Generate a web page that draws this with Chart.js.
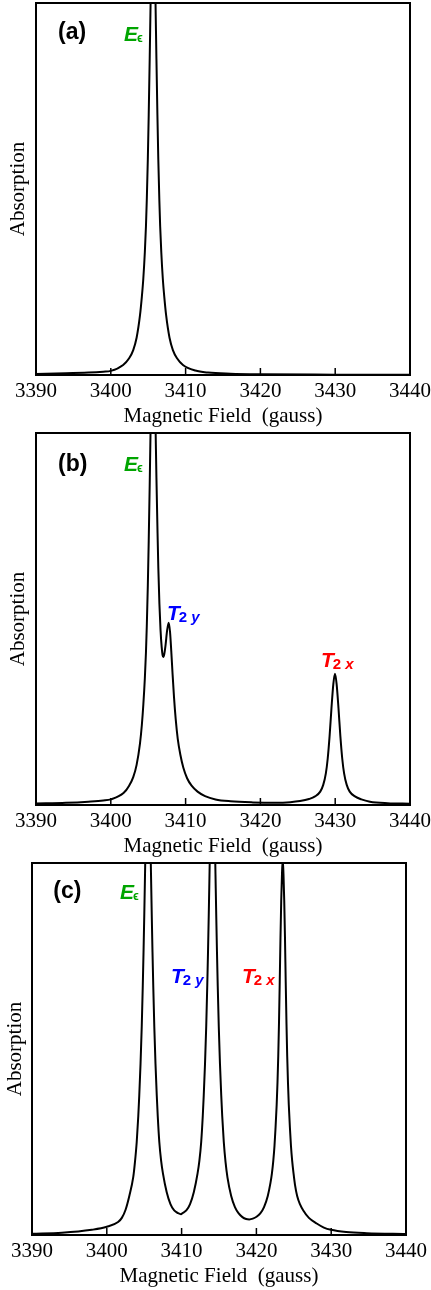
<!DOCTYPE html>
<html>
<head>
<meta charset="utf-8">
<script src="https://cdn.jsdelivr.net/npm/chart.js@4"></script>
<style>
  body { margin:0; background:#fff; }
  .panel { width:431px; height:430px; }
  canvas { display:block; }
</style>
</head>
<body>
<div class="panel"><canvas id="chartA" width="431" height="430"></canvas></div>
<div class="panel"><canvas id="chartB" width="431" height="430"></canvas></div>
<div class="panel"><canvas id="chartC" width="431" height="430"></canvas></div>
<script>
// ---------------------------
// Data (absorption in % of frame height)
// ---------------------------
const fieldTicks = [3390, 3400, 3410, 3420, 3430, 3440];

// (a) E peak only
const fieldA  = [3390, 3394, 3397, 3399, 3400.0, 3401.65, 3402.45, 3403.0, 3403.45, 3403.9,
                 3404.15, 3404.35, 3404.55, 3404.7, 3404.81, 3404.95, 3405.07, 3405.2, 3405.32, 3405.45,
                 3405.65, 3405.85, 3405.98, 3406.1, 3406.23, 3406.35, 3406.49, 3406.6, 3406.75, 3406.95,
                 3407.15, 3407.4, 3407.85, 3408.3, 3408.85, 3409.65, 3411.3, 3413, 3416, 3420,
                 3430, 3440];
const absorbA = [0.3, 0.45, 0.65, 0.9, 1.1, 2.7, 4.5, 6.7, 10, 16,
                 21, 26, 33, 40, 47, 58, 70, 85, 100, 115,
                 127, 115, 100, 85, 70, 58, 47, 40, 33, 26,
                 21, 16, 10, 6.7, 4.5, 2.7, 1.2, 0.65, 0.35, 0.2,
                 0.1, 0.05];

// (b) E + T2y + T2x
const fieldB  = [3390, 3394, 3397, 3399, 3400, 3401.7, 3402.45, 3403.0, 3403.45, 3403.9,
                 3404.15, 3404.35, 3404.55, 3404.7, 3404.81, 3404.95, 3405.07, 3405.2, 3405.31, 3405.45,
                 3405.65, 3405.85, 3405.98, 3406.1, 3406.23, 3406.35, 3406.5, 3406.65, 3406.8, 3406.92,
                 3407.02, 3407.15, 3407.32, 3407.52, 3407.74, 3407.92, 3408.08, 3408.25, 3408.45, 3408.68,
                 3408.95, 3409.3, 3409.7, 3410.2, 3410.8, 3411.6, 3412.6, 3414, 3416, 3419,
                 3422, 3424, 3425.3, 3426.5, 3427.3, 3428.0, 3428.4, 3428.75, 3429.0, 3429.25,
                 3429.5, 3429.75, 3429.97, 3430.19, 3430.44, 3430.69, 3430.94, 3431.19, 3431.54, 3431.94,
                 3432.64, 3433.5, 3434.65, 3437, 3440];
const absorbB = [0.4, 0.6, 0.9, 1.2, 1.5, 3.2, 5.2, 7.5, 10.8, 16.5,
                 21.5, 27, 34, 41, 48, 59, 71, 86, 100, 115,
                 127, 116, 102, 88, 75, 64, 54, 47, 42.5, 40.3,
                 39.8, 40.6, 43, 46.8, 49, 46.5, 41.5, 35.5, 29, 23,
                 17.8, 13.5, 10, 7.2, 5.2, 3.6, 2.4, 1.5, 1.0, 0.7,
                 0.6, 0.75, 1.05, 1.6, 2.3, 3.6, 5.4, 8.5, 12.5, 18.5,
                 26, 32.5, 35.3, 32.5, 26, 18.5, 12.5, 8.5, 5.4, 3.6,
                 2.3, 1.5, 0.9, 0.5, 0.35];

// (c) E + T2y + T2x, well separated
const fieldC  = [3390, 3394, 3398, 3400, 3401.51, 3402.01, 3402.51, 3403.01, 3403.54, 3403.76,
                 3404.0, 3404.21, 3404.34, 3404.51, 3404.67, 3404.81, 3404.91, 3405.01, 3405.11, 3405.21,
                 3405.31, 3405.41, 3405.51, 3405.61, 3405.71, 3405.81, 3405.91, 3406.01, 3406.11, 3406.21,
                 3406.35, 3406.51, 3406.68, 3406.81, 3407.02, 3407.26, 3407.51, 3408.01, 3408.51, 3409.01,
                 3409.51, 3409.92, 3410.13, 3410.63, 3411.13, 3411.63, 3412.13, 3412.38, 3412.62, 3412.83,
                 3412.96, 3413.13, 3413.29, 3413.43, 3413.53, 3413.63, 3413.73, 3413.83, 3413.93, 3414.03,
                 3414.13, 3414.23, 3414.33, 3414.43, 3414.53, 3414.63, 3414.73, 3414.83, 3414.97, 3415.13,
                 3415.3, 3415.43, 3415.64, 3415.88, 3416.13, 3416.63, 3417.13, 3417.63, 3418.13, 3418.63,
                 3419.05, 3419.52, 3420.02, 3420.52, 3421.02, 3421.52, 3421.88, 3422.07, 3422.26, 3422.42,
                 3422.55, 3422.71, 3422.82, 3422.92, 3423.02, 3423.12, 3423.22, 3423.32, 3423.42, 3423.52,
                 3423.62, 3423.72, 3423.82, 3423.92, 3424.02, 3424.12, 3424.22, 3424.33, 3424.49, 3424.62,
                 3424.78, 3424.97, 3425.16, 3425.45, 3425.82, 3426.27, 3427.02, 3428.06, 3429.02, 3429.97,
                 3432, 3434.75, 3440];
const absorbC = [0.35, 0.6, 1.4, 2.2, 3.5, 4.6, 6.8, 10.5, 15.6, 19.5,
                 25, 32, 37.5, 46, 56, 67, 76, 86, 97, 108,
                 118, 124, 127, 124, 118, 108, 97, 86, 76, 67,
                 56, 46, 37.5, 32, 25, 20, 16.5, 11.5, 8.3, 6.6,
                 5.9, 5.6, 5.9, 6.6, 8.3, 11.5, 16.5, 20, 25, 32,
                 37.5, 46, 56, 67, 76, 86, 97, 108, 118, 124,
                 127, 124, 118, 108, 97, 86, 76, 67, 56, 46,
                 37.5, 32, 25, 19.5, 15.5, 10.5, 7.5, 5.8, 4.8, 4.3,
                 4.2, 4.4, 4.9, 5.8, 7.5, 10.5, 14, 16.5, 20, 24,
                 28.5, 35, 41, 48, 57, 68, 80, 90, 97, 101,
                 97, 90, 80, 68, 57, 48, 41, 35, 28.5, 24,
                 20, 16.5, 13.5, 10.5, 8.3, 6.6, 4.6, 3.1, 2.0, 1.4,
                 0.8, 0.5, 0.3];

// ---------------------------
// Fonts / colours
// ---------------------------
const SERIF = '"Liberation Serif", "Times New Roman", serif';
const SANS = '"Liberation Sans", Arial, sans-serif';
const GREEN = 'rgb(0,165,0)', BLUE = '#0000ff', RED = '#ff0000';

function bigE(x, y){
  return { x, y, color: GREEN, parts: [
    { t:'E', f:'italic bold 21px ' + SANS },
    { t:'ϵ', f:'bold 12px ' + SANS, dx:-1, dy:1 }
  ]};
}
function tLabel(x, y, sub, color){
  return { x, y, color, parts: [
    { t:'T', f:'italic bold 21px ' + SANS },
    { t:'2', f:'bold 15px ' + SANS, dx:-1, dy:2 },
    { t:sub, f:'italic bold 15px ' + SANS, dx:4, dy:2 }
  ]};
}
function tag(x, y, txt){
  return { x, y, color:'#000', middle:true, parts: [{ t:txt, f:'bold 23px ' + SANS }] };
}

const labelsA = [ tag(3392.94, 91.9, '(a)'), bigE(3401.76, 89.8) ];
const labelsB = [ tag(3392.94, 91.6, '(b)'), bigE(3401.76, 89.8),
                  tLabel(3407.51, 49.7, 'y', BLUE), tLabel(3428.1, 37.2, 'x', RED) ];
const labelsC = [ tag(3392.85, 92.2, '(c)'), bigE(3401.76, 90.2),
                  tLabel(3408.58, 67.7, 'y', BLUE), tLabel(3418.07, 67.7, 'x', RED) ];

// ---------------------------
// Plugins
// ---------------------------
const framePlugin = {
  id:'frame',
  afterDatasetsDraw(chart){
    const { ctx, chartArea:a, scales:{ x } } = chart;
    ctx.save();
    ctx.strokeStyle = '#000';
    ctx.lineWidth = 2;
    ctx.strokeRect(a.left, a.top, a.right - a.left, a.bottom - a.top);
    ctx.lineWidth = 1.5;
    fieldTicks.slice(1, -1).forEach(v=>{
      const px = x.getPixelForValue(v);
      ctx.beginPath(); ctx.moveTo(px, a.bottom); ctx.lineTo(px, a.bottom - 7); ctx.stroke();
    });
    ctx.restore();
  }
};

function labelPlugin(labels){
  return {
    id:'peakLabels',
    afterDraw(chart){
      const { ctx, scales:{ x, y } } = chart;
      ctx.save();
      labels.forEach(l=>{
        let px = x.getPixelForValue(l.x);
        const py = y.getPixelForValue(l.y);
        ctx.fillStyle = l.color;
        ctx.textAlign = 'left';
        ctx.textBaseline = l.middle ? 'middle' : 'alphabetic';
        l.parts.forEach(p=>{
          ctx.font = p.f;
          px += (p.dx || 0);
          ctx.fillText(p.t, px, py + (p.dy || 0));
          px += ctx.measureText(p.t).width;
        });
      });
      ctx.restore();
    }
  };
}

// ---------------------------
// Charts
// ---------------------------
function makeChart(id, field, absorb, labels, yWidth, yTitlePad, padRight){
  const pts = field.map((f, i)=>({ x:f, y:absorb[i] }));
  return new Chart(document.getElementById(id), {
    type:'line',
    data:{ datasets:[{
      data: pts,
      borderColor:'#000',
      borderWidth:2,
      pointRadius:0,
      fill:false,
      cubicInterpolationMode:'monotone'
    }]},
    options:{
      responsive:false,
      animation:false,
      layout:{ padding:{ top:3, right:padRight, bottom:0, left:0 } },
      plugins:{ legend:{ display:false }, tooltip:{ enabled:false } },
      scales:{
        x:{
          type:'linear', min:3390, max:3440,
          afterBuildTicks: s=>{ s.ticks = fieldTicks.map(v=>({ value:v })); },
          afterFit: s=>{ s.height = 55; s.paddingLeft = 0; s.paddingRight = 0; },
          grid:{ display:false, drawTicks:false },
          border:{ display:false },
          ticks:{ maxRotation:0, autoSkip:false, padding:4, color:'#000',
                  font:{ family:SERIF, size:21 }, callback: v=>String(v) },
          title:{ display:true, text:'Magnetic Field  (gauss)', color:'#000',
                  font:{ family:SERIF, size:21 }, padding:{ top:0, bottom:1 } }
        },
        y:{
          min:0, max:100,
          afterFit: s=>{ s.width = yWidth; s.paddingTop = 0; s.paddingBottom = 0; },
          grid:{ display:false, drawTicks:false },
          border:{ display:false },
          ticks:{ display:false },
          title:{ display:true, text:'Absorption', color:'#000',
                  font:{ family:SERIF, size:21 }, padding:{ top:yTitlePad, bottom:0 } }
        }
      }
    },
    plugins:[ framePlugin, labelPlugin(labels) ]
  });
}

makeChart('chartA', fieldA, absorbA, labelsA, 36, 6, 21);
makeChart('chartB', fieldB, absorbB, labelsB, 36, 6, 21);
makeChart('chartC', fieldC, absorbC, labelsC, 32, 2.5, 25);
</script>
</body>
</html>
